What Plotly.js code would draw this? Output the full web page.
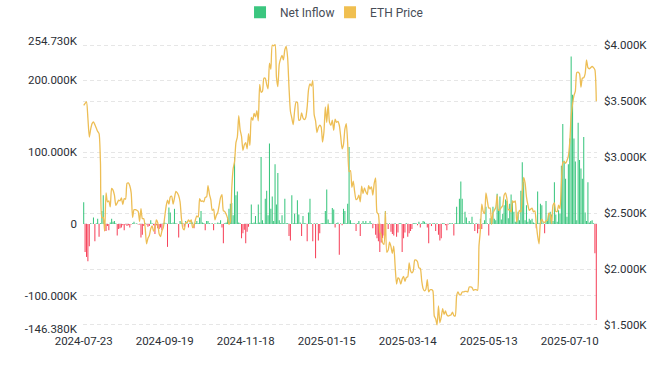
<!DOCTYPE html>
<html><head><meta charset="utf-8">
<script src="https://cdn.plot.ly/plotly-3.0.1.min.js"></script>
<style>html,body{margin:0;padding:0;background:#fff}#chart{width:670px;height:380px}</style>
</head><body><div id="chart"></div>
<script>
const startDate = '2024-07-23';
const skippedDates = ['2024-10-05', '2024-11-02', '2025-04-01', '2025-04-26'];

// Net inflow, thousands of ETH, one value per category (day)
const netInflowK = [
  30, -39, -46, -52, -31, 1, 0, 9, -24, 1,
  7, -18, 1, 18, 40, -10, -10, -3, -9, 2,
  7, 3, 4, 1, -16, -7, -6, -5, -2, -9,
  -1, -3, -2, -5, -1, 1, 3, 0, 1, -1,
  -1, -19, -15, -3, 1, -1, -4, -3, 5, 1,
  -2, -14, -2, -6, -7, -5, -9, 1, 2, 1,
  -32, 23, 16, 1, 2, 21, 1, 0, -19, 4,
  2, 1, -4, 4, 1, -5, 1, 4, 2, -6,
  1, 4, 1, 9, 18, 2, 1, -9, 4, 4,
  1, 0, 1, -9, 1, 0, 2, 1, 5, -5,
  -27, 1, 2, 8, 21, 28, 29, 12, 93, 40,
  45, 2, 1, -20, -13, -8, -27, -11, -4, 1,
  27, 1, 2, 11, 1, 27, 2, 93, 5, 1,
  35, 46, 12, 112, 21, 38, 4, 83, 27, 71,
  5, 1, 12, 1, 35, 1, 1, -17, -23, 40,
  1, 14, 1, 33, 13, 2, -17, 11, 1, 1,
  -24, 16, 35, 1, -24, 1, -48, 1, -23, -13,
  1, 1, 1, 18, 48, 6, 1, 1, 22, 20,
  -5, 1, 2, -43, 1, -2, 21, 18, 1, 28,
  107, 5, 1, 1, 1, -10, 1, 4, -17, 1,
  4, 1, 4, 1, 1, 4, 1, -6, -1, -15,
  -20, -24, -39, -26, -20, -16, 18, 1, -7, 1,
  -11, -14, -16, 1, -18, -12, 1, 1, -39, -20,
  -12, 1, -18, -13, -10, -7, 1, 1, 1, -2,
  3, -5, 1, 4, 3, 1, -5, -27, 1, -3,
  1, 1, -10, 1, -15, -23, -20, 1, 1, -2,
  -9, -1, 1, 1, 1, -16, 1, 24, 1, 35,
  59, 35, 1, 17, 9, 1, 4, 1, 10, 1,
  -10, 1, -13, -7, 7, -7, 1, 5, 24, 1,
  -16, 8, 3, 24, 7, 5, 42, 20, 38, 6,
  14, 26, 34, 32, 8, 28, 41, 31, 17, 3,
  4, 17, 5, 46, 86, 59, 5, 26, 3, 7,
  5, 7, 2, 1, -6, 45, 1, 28, 26, 1,
  -13, 32, 5, 13, 17, 13, 4, 58, 13, 3,
  19, 14, 81, 139, 88, 63, 10, 83, 119, 233,
  180, 119, 87, 5, 141, 89, 77, 63, 121, 16,
  4, 58, 2, 4, 5, 1, -41, -134
];

// ETH price, USD, one value per category (day)
const ethPrice = [
  3463, 3480, 3493, 3350, 3180, 3250, 3300, 3314, 3290, 3260,
  3230, 3210, 2950, 2460, 2460, 2340, 2680, 2600, 2610, 2555,
  2720, 2705, 2660, 2570, 2590, 2615, 2610, 2635, 2575, 2630,
  2625, 2765, 2770, 2745, 2680, 2460, 2530, 2530, 2525, 2515,
  2425, 2540, 2450, 2450, 2370, 2225, 2275, 2300, 2360, 2385,
  2340, 2360, 2440, 2415, 2315, 2290, 2340, 2370, 2465, 2560,
  2615, 2580, 2645, 2650, 2580, 2635, 2695, 2680, 2655, 2600,
  2450, 2365, 2350, 2415, 2415, 2440, 2420, 2440, 2370, 2385,
  2440, 2475, 2465, 2630, 2605, 2610, 2600, 2640, 2645, 2745,
  2670, 2620, 2525, 2535, 2440, 2480, 2505, 2570, 2640, 2665,
  2520, 2515, 2490, 2455, 2400, 2420, 2720, 2895, 2960, 3130,
  3180, 3370, 3245, 3185, 3060, 3110, 3130, 3075, 3210, 3105,
  3355, 3330, 3390, 3360, 3415, 3325, 3650, 3580, 3590, 3705,
  3705, 3650, 3610, 3840, 3785, 4000, 3995, 4005, 3715, 3630,
  3830, 3880, 3910, 3870, 3960, 3990, 3890, 3620, 3410, 3350,
  3290, 3415, 3490, 3490, 3330, 3335, 3395, 3350, 3335, 3355,
  3450, 3605, 3655, 3635, 3685, 3380, 3325, 3220, 3265, 3285,
  3270, 3135, 3225, 3450, 3310, 3475, 3310, 3285, 3330, 3240,
  3340, 3310, 3320, 3285, 3185, 3075, 3115, 3250, 3300, 3125,
  2870, 2880, 2730, 2785, 2690, 2620, 2630, 2660, 2600, 2740,
  2675, 2725, 2690, 2665, 2745, 2715, 2735, 2660, 2765, 2815,
  2505, 2490, 2330, 2305, 2235, 2220, 2515, 2150, 2170, 2240,
  2200, 2140, 2205, 2020, 1865, 1920, 1910, 1865, 1910, 1935,
  1890, 1925, 1930, 2055, 1985, 1965, 1985, 2080, 2080, 2065,
  2010, 2005, 1895, 1825, 1805, 1820, 1905, 1795, 1815, 1815,
  1805, 1580, 1555, 1500, 1670, 1520, 1570, 1645, 1595, 1625,
  1590, 1580, 1585, 1590, 1615, 1585, 1580, 1760, 1795, 1770,
  1770, 1795, 1795, 1800, 1800, 1795, 1840, 1840, 1835, 1810,
  1815, 1815, 1810, 2205, 2345, 2580, 2515, 2495, 2680, 2610,
  2545, 2545, 2400, 2500, 2525, 2550, 2660, 2525, 2530, 2550,
  2565, 2660, 2680, 2630, 2530, 2530, 2510, 2610, 2595, 2610,
  2420, 2480, 2525, 2510, 2685, 2820, 2770, 2645, 2575, 2525,
  2535, 2545, 2510, 2520, 2405, 2295, 2225, 2415, 2445, 2420,
  2415, 2430, 2435, 2500, 2485, 2405, 2570, 2590, 2515, 2515,
  2570, 2540, 2770, 2950, 2960, 2945, 2970, 3010, 3135, 3370,
  3475, 3550, 3590, 3755, 3760, 3745, 3625, 3705, 3710, 3745,
  3870, 3800, 3790, 3800, 3810, 3800, 3780, 3500
];

const xTickDates = ['2024-07-23', '2024-09-19', '2024-11-18', '2025-01-15', '2025-03-14', '2025-05-13', '2025-07-10'];
const leftTickVals = [-146.38, -100, 0, 100, 200, 254.73];
const leftTickText = ['-146.380K', '-100.000K', '0', '100.000K', '200.000K', '254.730K'];
const rightTickVals = [1500, 2000, 2500, 3000, 3500, 4000];
const rightTickText = ['$1.500K', '$2.000K', '$2.500K', '$3.000K', '$3.500K', '$4.000K'];
const leftRange = [-146.38, 254.73];
const rightRange = [1464, 4038];

const GREEN = '#3BC67F', RED = '#F6465D', GOLD = '#EDBE55';

const dates = [];
const cur = new Date(startDate + 'T00:00:00Z');
while (dates.length < netInflowK.length) {
  const s = cur.toISOString().slice(0, 10);
  if (!skippedDates.includes(s)) dates.push(s);
  cur.setUTCDate(cur.getUTCDate() + 1);
}

const font = {family: 'Roboto, "Noto Sans", sans-serif', size: 11.5, color: '#2B2F36'};

const traces = [
  {
    type: 'bar', name: 'Net Inflow', x: dates, y: netInflowK, yaxis: 'y',
    marker: {color: netInflowK.map(v => v >= 0 ? GREEN : RED), line: {width: 0}},
    width: 0.75, hoverinfo: 'skip', legend: 'legend'
  },
  {
    type: 'scatter', mode: 'lines', name: 'ETH Price', x: dates, y: ethPrice, yaxis: 'y2',
    line: {color: GOLD, width: 1.3, shape: 'spline', smoothing: 0.6},
    showlegend: false, hoverinfo: 'skip'
  },
  {
    type: 'bar', name: 'ETH Price', x: [dates[0]], y: [null], yaxis: 'y2',
    marker: {color: '#F0BF50'}, hoverinfo: 'skip', legend: 'legend2', showlegend: true
  }
];

const grid = {gridcolor: '#E6E6E6', griddash: '4px,3px', gridwidth: 1};
const legendFont = {family: font.family, size: 12, color: '#474D57'};

const layout = {
  width: 670, height: 380,
  margin: {l: 83, r: 73, t: 41, b: 51, autoexpand: false},
  paper_bgcolor: '#fff', plot_bgcolor: '#fff',
  barmode: 'overlay', bargap: 0.25,
  font: font,
  showlegend: true,
  legend: {orientation: 'h', x: 0.3055, xanchor: 'left', y: 1.1, yanchor: 'middle',
           font: legendFont, itemwidth: 30, bgcolor: 'rgba(0,0,0,0)'},
  legend2: {orientation: 'h', x: 0.4806, xanchor: 'left', y: 1.1, yanchor: 'middle',
            font: legendFont, itemwidth: 30, bgcolor: 'rgba(0,0,0,0)'},
  xaxis: {
    type: 'category', range: [-0.5, dates.length - 0.5],
    tickmode: 'array', tickvals: xTickDates, ticktext: xTickDates,
    showgrid: false, zeroline: false, showline: false, ticks: '',
    tickfont: font, ticklabelstandoff: 3, fixedrange: true
  },
  yaxis: Object.assign({
    range: leftRange, tickmode: 'array', tickvals: leftTickVals, ticktext: leftTickText,
    zeroline: false, showline: false, ticks: '', tickfont: font, ticklabelstandoff: 5
  }, grid),
  yaxis2: Object.assign({
    overlaying: 'y', side: 'right',
    range: rightRange, tickmode: 'array', tickvals: rightTickVals, ticktext: rightTickText,
    zeroline: false, showline: false, ticks: '', tickfont: font, ticklabelstandoff: 6
  }, grid)
};

Plotly.newPlot('chart', traces, layout, {displayModeBar: false, staticPlot: true});
</script>
</body></html>
